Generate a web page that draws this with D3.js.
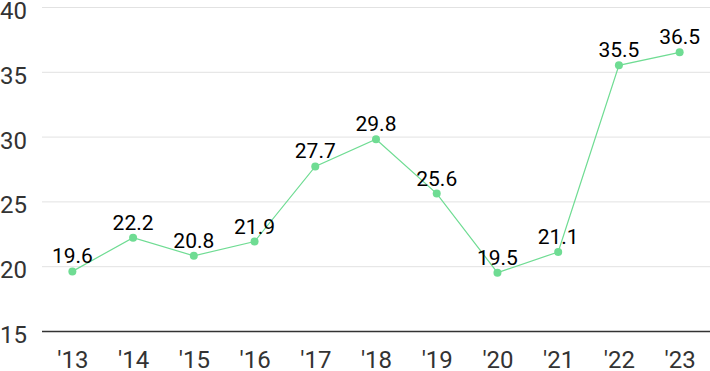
<!DOCTYPE html>
<html>
<head>
<meta charset="utf-8">
<script src="https://cdn.jsdelivr.net/npm/d3@7"></script>
<style>
  body { margin: 0; background: #fff; }
  svg text { font-family: Roboto, "Noto Sans", sans-serif; }
</style>
</head>
<body>
<div id="chart"></div>
<script>
var years = ["'13", "'14", "'15", "'16", "'17", "'18", "'19", "'20", "'21", "'22", "'23"];
var values = [19.6, 22.2, 20.8, 21.9, 27.7, 29.8, 25.6, 19.5, 21.1, 35.5, 36.5];
var yTicks = [15, 20, 25, 30, 35, 40];

var width = 710,
    height = 371;

var svg = d3.select("#chart")
  .append("svg")
    .attr("width", width)
    .attr("height", height);

// x: one slot per year
var x = d3.scalePoint()
  .domain(years)
  .range([42, 710])
  .padding(0.5);

var y = d3.scaleLinear()
  .domain([15, 40])
  .range([331, 7]);

// grid lines
svg.append("g")
  .selectAll("line")
  .data(yTicks.slice(1))
  .enter()
  .append("line")
    .attr("x1", 42)
    .attr("x2", width)
    .attr("y1", function(d) { return y(d) + 0.5; })
    .attr("y2", function(d) { return y(d) + 0.5; })
    .attr("stroke", "#e2e2e2")
    .attr("stroke-width", 1);

// base line
svg.append("line")
  .attr("x1", 42)
  .attr("x2", width)
  .attr("y1", y(15) + 0.5)
  .attr("y2", y(15) + 0.5)
  .attr("stroke", "#333")
  .attr("stroke-width", 1.3);

// y tick labels
svg.append("g")
  .selectAll("text")
  .data(yTicks)
  .enter()
  .append("text")
    .attr("x", 0)
    .attr("y", function(d) { return y(d) + 12; })
    .attr("fill", "#333")
    .style("font-size", "24px")
    .text(function(d) { return d; });

// x tick labels
var xAxis = svg.append("g")
  .attr("transform", "translate(0," + y(15) + ")")
  .call(d3.axisBottom(x).tickSize(0));
xAxis.select(".domain").remove();
xAxis.selectAll("text")
  .attr("y", 37)
  .attr("dy", 0)
  .attr("fill", "#333")
  .style("font-size", "24px")
  .style("font-family", "Roboto, 'Noto Sans', sans-serif");

// line
svg.append("path")
  .datum(values)
  .attr("fill", "none")
  .attr("stroke", "#6fdc93")
  .attr("stroke-width", 1.2)
  .attr("d", d3.line()
    .x(function(d, i) { return x(years[i]); })
    .y(function(d) { return y(d); })
  );

// dots
svg.append("g")
  .selectAll("circle")
  .data(values)
  .enter()
  .append("circle")
    .attr("cx", function(d, i) { return x(years[i]); })
    .attr("cy", function(d) { return y(d); })
    .attr("r", 4)
    .attr("fill", "#6fdc93");

// value labels
svg.append("g")
  .selectAll("text")
  .data(values)
  .enter()
  .append("text")
    .attr("x", function(d, i) { return x(years[i]); })
    .attr("y", function(d) { return y(d) - 8; })
    .attr("text-anchor", "middle")
    .attr("fill", "#000")
    .style("font-size", "21px")
    .text(function(d) { return d.toFixed(1); });
</script>
</body>
</html>
